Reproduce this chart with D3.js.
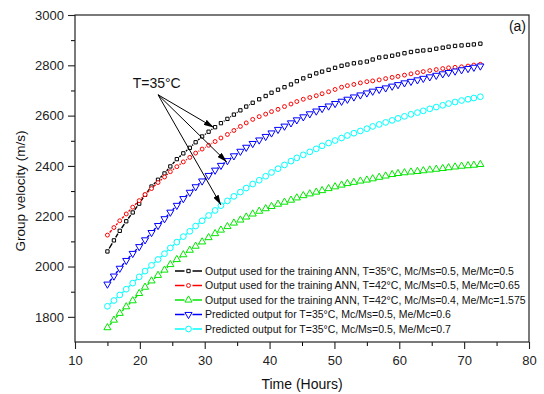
<!DOCTYPE html>
<html>
<head>
<meta charset="utf-8">
<script src="https://cdn.jsdelivr.net/npm/d3@7"></script>
<style>
  body { margin: 0; background: #fff; }
  svg { font-family: "Liberation Sans", Arial, sans-serif; }
</style>
</head>
<body>
<svg id="chart" width="544" height="394"></svg>
<script>
// time axis (hours) shared by all five curves
const hours = [15.0, 16.0, 16.9, 17.9, 18.9, 19.9, 20.8, 21.8, 22.8, 23.8,
  24.7, 25.7, 26.7, 27.7, 28.6, 29.6, 30.6, 31.6, 32.5, 33.5,
  34.5, 35.5, 36.4, 37.4, 38.4, 39.4, 40.3, 41.3, 42.3, 43.3,
  44.2, 45.2, 46.2, 47.2, 48.1, 49.1, 50.1, 51.1, 52.0, 53.0,
  54.0, 55.0, 55.9, 56.9, 57.9, 58.9, 59.8, 60.8, 61.8, 62.8,
  63.7, 64.7, 65.7, 66.7, 67.6, 68.6, 69.6, 70.6, 71.5, 72.5];

// group velocity (m/s)
const trainT35 = [2060, 2104, 2142, 2180, 2215, 2250, 2285, 2318, 2345, 2370,
  2398, 2427, 2450, 2472, 2494, 2517, 2536, 2554, 2570, 2587,
  2604, 2621, 2636, 2651, 2665, 2678, 2691, 2703, 2713, 2724,
  2737, 2748, 2758, 2768, 2775, 2782, 2790, 2798, 2803, 2808,
  2811, 2815, 2823, 2831, 2834, 2838, 2843, 2848, 2853, 2857,
  2859, 2861, 2866, 2870, 2874, 2877, 2879, 2881, 2883, 2886];

const trainT42a = [2125, 2155, 2182, 2209, 2236, 2262, 2286, 2310, 2334, 2356,
  2377, 2397, 2416, 2434, 2451, 2467, 2482, 2497, 2511, 2525,
  2541, 2557, 2571, 2585, 2596, 2606, 2616, 2625, 2636, 2646,
  2656, 2665, 2672, 2679, 2687, 2695, 2704, 2713, 2719, 2724,
  2730, 2735, 2738, 2742, 2747, 2752, 2756, 2761, 2766, 2771,
  2775, 2779, 2783, 2787, 2790, 2792, 2794, 2797, 2801, 2804];

const trainT42b = [1757, 1787, 1814, 1840, 1864, 1893, 1918, 1943, 1965, 1986,
  2008, 2028, 2047, 2065, 2081, 2098, 2115, 2131, 2145, 2159,
  2173, 2185, 2197, 2209, 2220, 2230, 2239, 2248, 2256, 2264,
  2273, 2282, 2289, 2296, 2302, 2310, 2317, 2324, 2330, 2335,
  2340, 2344, 2349, 2355, 2360, 2366, 2370, 2373, 2376, 2378,
  2381, 2384, 2387, 2390, 2393, 2396, 2399, 2401, 2403, 2406];

const predMe06 = [1930, 1962, 1993, 2024, 2052, 2079, 2106, 2135, 2163, 2190,
  2216, 2243, 2270, 2295, 2317, 2340, 2362, 2383, 2402, 2421,
  2440, 2458, 2474, 2489, 2503, 2517, 2531, 2545, 2558, 2571,
  2583, 2595, 2607, 2618, 2628, 2638, 2648, 2657, 2665, 2674,
  2682, 2690, 2697, 2704, 2710, 2717, 2723, 2730, 2736, 2742,
  2748, 2754, 2760, 2766, 2771, 2777, 2782, 2787, 2792, 2797];

const predMe07 = [1842, 1865, 1887, 1910, 1934, 1959, 1982, 2005, 2028, 2051,
  2074, 2097, 2119, 2140, 2161, 2182, 2203, 2223, 2242, 2261,
  2279, 2296, 2312, 2328, 2343, 2359, 2374, 2389, 2404, 2419,
  2432, 2444, 2456, 2468, 2480, 2491, 2501, 2511, 2521, 2530,
  2539, 2548, 2557, 2565, 2573, 2581, 2589, 2597, 2605, 2612,
  2619, 2627, 2634, 2641, 2648, 2654, 2660, 2665, 2670, 2675];

const legendLabels = [
  "Output used for the training ANN, T=35°C, Mc/Ms=0.5, Me/Mc=0.5",
  "Output used for the training ANN, T=42°C, Mc/Ms=0.5, Me/Mc=0.65",
  "Output used for the training ANN, T=42°C, Mc/Ms=0.4, Me/Mc=1.575",
  "Predicted output for T=35°C, Mc/Ms=0.5, Me/Mc=0.6",
  "Predicted output for T=35°C, Mc/Ms=0.5, Me/Mc=0.7"
];

const xTicks = [10, 20, 30, 40, 50, 60, 70, 80];
const yTicks = [1800, 2000, 2200, 2400, 2600, 2800, 3000];

// annotation: "T=35°C" label and arrow tips (data coords)
const noteLabel = {t: 18.9, v: 2710};
const noteOrigin = {t: 22.8, v: 2683};
const noteTargets = [{t: 31.4, v: 2553}, {t: 33.4, v: 2416}, {t: 32.5, v: 2245}];

const series = [
  {values: trainT35,  color: "#000000", symbol: d3.symbolSquare,   size: 11, rotate: 0},
  {values: trainT42a, color: "#ff0000", symbol: d3.symbolCircle,   size: 12, rotate: 0},
  {values: trainT42b, color: "#00e600", symbol: d3.symbolTriangle, size: 22, rotate: 0},
  {values: predMe06,  color: "#0000ff", symbol: d3.symbolTriangle, size: 22, rotate: 180},
  {values: predMe07,  color: "#00ffff", symbol: d3.symbolCircle,   size: 26, rotate: 0}
];

const svg = d3.select("#chart"),
    margin = {top: 15, right: 15, bottom: 52, left: 75},
    width = +svg.attr("width") - margin.left - margin.right,
    height = +svg.attr("height") - margin.top - margin.bottom;

const x = d3.scaleLinear().domain([10, 80]).range([0, width]);
const y = d3.scaleLinear().domain([1700, 3000]).range([height, 0]);

const g = svg.append("g")
    .attr("transform", "translate(" + margin.left + "," + margin.top + ")");

// minor ticks
g.append("g")
    .attr("transform", "translate(0," + height + ")")
    .call(d3.axisBottom(x).tickValues(d3.range(15, 80, 10)).tickSize(4).tickFormat(""))
    .call(a => a.select(".domain").remove());
g.append("g")
    .call(d3.axisLeft(y).tickValues(d3.range(1900, 3000, 200)).tickSize(4).tickFormat(""))
    .call(a => a.select(".domain").remove());

// major ticks with labels
const xAxis = g.append("g")
    .attr("transform", "translate(0," + height + ")")
    .call(d3.axisBottom(x).tickValues(xTicks).tickSize(7).tickPadding(7).tickFormat(d3.format("d")));
const yAxis = g.append("g")
    .call(d3.axisLeft(y).tickValues(yTicks).tickSize(7).tickPadding(4).tickFormat(d3.format("d")));

[xAxis, yAxis].forEach(a => {
  a.select(".domain").remove();
  a.selectAll("line").attr("stroke", "#222").attr("stroke-width", 1.1);
  a.selectAll("text").attr("fill", "#222").attr("font-size", "13px")
      .attr("font-family", "'Liberation Sans', Arial, sans-serif");
});

// frame
g.append("rect")
    .attr("width", width).attr("height", height)
    .attr("fill", "none").attr("stroke", "#222").attr("stroke-width", 1.2);

// lines with a gap round each symbol (Origin style)
function gappedPath(pts, gap) {
  const p = d3.path();
  for (let i = 1; i < pts.length; i++) {
    const [x0, y0] = pts[i - 1], [x1, y1] = pts[i];
    const len = Math.hypot(x1 - x0, y1 - y0);
    if (len - 2 * gap < 0.6) continue;
    const ux = (x1 - x0) / len, uy = (y1 - y0) / len;
    p.moveTo(x0 + ux * gap, y0 + uy * gap);
    p.lineTo(x1 - ux * gap, y1 - uy * gap);
  }
  return p.toString();
}

series.forEach(s => {
  const pts = s.values.map((v, i) => [x(hours[i]), y(v)]);
  g.append("path")
      .attr("d", gappedPath(pts, 3.4))
      .attr("fill", "none")
      .attr("stroke", s.color)
      .attr("stroke-width", 1.4);
  g.selectAll(null)
    .data(pts)
    .enter().append("path")
      .attr("transform", d => "translate(" + d[0] + "," + d[1] + ") rotate(" + s.rotate + ")")
      .attr("d", d3.symbol().type(s.symbol).size(s.size))
      .attr("fill", "#fff")
      .attr("stroke", s.color)
      .attr("stroke-width", 1);
});

// annotation arrows
svg.append("defs").append("marker")
    .attr("id", "arrow")
    .attr("markerUnits", "userSpaceOnUse")
    .attr("viewBox", "0 0 10 6")
    .attr("refX", 10).attr("refY", 3)
    .attr("markerWidth", 10).attr("markerHeight", 6)
    .attr("orient", "auto")
  .append("path")
    .attr("d", "M0,0L10,3L0,6Z")
    .attr("fill", "#000");

noteTargets.forEach(tg => {
  g.append("line")
      .attr("x1", x(noteOrigin.t)).attr("y1", y(noteOrigin.v))
      .attr("x2", x(tg.t)).attr("y2", y(tg.v))
      .attr("stroke", "#000").attr("stroke-width", 1)
      .attr("marker-end", "url(#arrow)");
});

g.append("text")
    .attr("x", x(noteLabel.t)).attr("y", y(noteLabel.v))
    .attr("font-size", "14px").attr("fill", "#111")
    .text("T=35°C");

g.append("text")
    .attr("x", width - 3).attr("y", 16)
    .attr("text-anchor", "end")
    .attr("font-size", "14px").attr("fill", "#111")
    .text("(a)");

// legend
const legend = svg.append("g").attr("transform", "translate(175,271)");
series.forEach((s, i) => {
  const row = legend.append("g").attr("transform", "translate(0," + (i * 14.5) + ")");
  row.append("path")
      .attr("d", "M0,0H9.5M17.5,0H27")
      .attr("stroke", s.color).attr("stroke-width", 1.4);
  row.append("path")
      .attr("transform", "translate(13.5,0) rotate(" + s.rotate + ")")
      .attr("d", d3.symbol().type(s.symbol).size(s.size))
      .attr("fill", "#fff").attr("stroke", s.color).attr("stroke-width", 1);
  row.append("text")
      .attr("x", 30).attr("dy", "0.35em")
      .attr("font-size", "10.5px").attr("fill", "#111")
      .text(legendLabels[i]);
});

// axis titles
svg.append("text")
    .attr("x", margin.left + width / 2).attr("y", 389)
    .attr("text-anchor", "middle")
    .attr("font-size", "14px").attr("fill", "#111")
    .text("Time (Hours)");

svg.append("text")
    .attr("transform", "translate(25,191) rotate(-90)")
    .attr("text-anchor", "middle")
    .attr("font-size", "13.5px").attr("fill", "#111")
    .text("Group velocity (m/s)");
</script>
</body>
</html>
